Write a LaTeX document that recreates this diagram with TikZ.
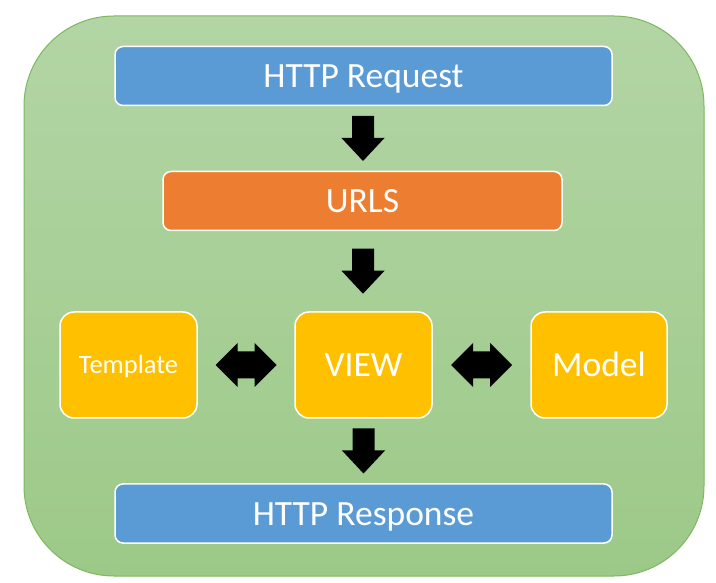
\documentclass[tikz,border=0pt]{standalone}
\usepackage{fontspec}
\setmainfont{Carlito}
\usetikzlibrary{calc}
\definecolor{bgtop}{HTML}{B3D5A5}
\definecolor{bgbot}{HTML}{9CC988}
\definecolor{bgline}{HTML}{7CB85C}
\definecolor{boxblue}{HTML}{5B9BD5}
\definecolor{boxorange}{HTML}{ED7D31}
\definecolor{boxgold}{HTML}{FFC000}
\tikzset{
  box/.style={draw=white, line width=1.5pt, text=white, inner sep=0pt,
    font=\fontsize{35.5}{40}\selectfont, text height=23pt, text depth=0pt},
  widebox/.style={box, rounded corners=8pt, minimum height=59pt, text height=24pt},
  squarebox/.style={box, rounded corners=14pt, minimum width=137pt, minimum height=106pt, fill=boxgold},
  smalltext/.style={font=\fontsize{26.5}{30}\selectfont, text height=17pt},
  downarrow/.pic={\fill[black] (-11,22.5) -- (11,22.5) -- (11,0.5) -- (21.5,0.5) -- (0,-22.5) -- (-21.5,0.5) -- (-11,0.5) -- cycle;},
  botharrow/.pic={\fill[black] (-30.5,0) -- (-8.5,22) -- (-8.5,13.5) -- (8.5,13.5) -- (8.5,22) -- (30.5,0) -- (8.5,-22) -- (8.5,-13.5) -- (-8.5,-13.5) -- (-8.5,-22) -- cycle;}
}
\begin{document}
\begin{tikzpicture}[x=1pt,y=1pt]
\useasboundingbox (0,0) rectangle (716,582);
\shade[top color=bgtop, bottom color=bgbot, draw=bgline, line width=1pt, rounded corners=90pt]
  (24,6) rectangle (704,566);
\node[widebox, fill=boxblue, minimum width=497pt] (req) at (363.5,506) {HTTP Request};
\node[widebox, fill=boxorange, minimum width=399pt] (urls) at (362.5,381) {URLS};
\node[squarebox, smalltext] (tmpl) at (128.5,217) {Template};
\node[squarebox] (view) at (363.5,217) {VIEW};
\node[squarebox, minimum width=136pt] (model) at (599,217) {Model};
\node[widebox, fill=boxblue, minimum width=497pt] (resp) at (363.5,68.5) {HTTP Response};
\coordinate (a1) at ($(req.south)!0.5!(urls.north)$);
\coordinate (a2) at ($(urls.south)!0.5!(view.north)$);
\coordinate (a3) at ($(view.south)!0.5!(resp.north)$);
\coordinate (b1) at ($(tmpl.east)!0.5!(view.west)$);
\coordinate (b2) at ($(view.east)!0.5!(model.west)$);
\pic at (a1) {downarrow};
\pic at (a2) {downarrow};
\pic at (a3) {downarrow};
\pic at (b1) {botharrow};
\pic at (b2) {botharrow};
\end{tikzpicture}
\end{document}
